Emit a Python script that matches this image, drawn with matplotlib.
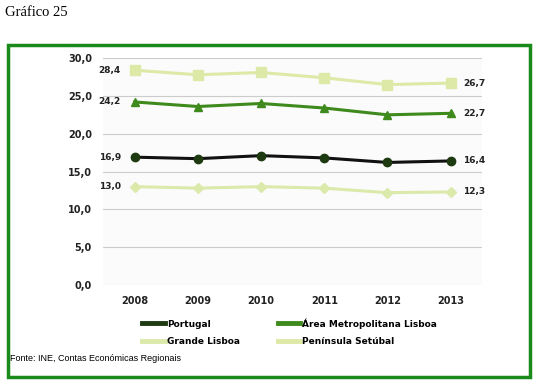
import matplotlib.pyplot as plt
from matplotlib.lines import Line2D
from matplotlib.patches import Rectangle

# data
years = ['2008', '2009', '2010', '2011', '2012', '2013']
portugal = [16.9, 16.7, 17.1, 16.8, 16.2, 16.4]
aml = [24.2, 23.6, 24.0, 23.4, 22.5, 22.7]
grande_lisboa = [13.0, 12.8, 13.0, 12.8, 12.2, 12.3]
setubal = [28.4, 27.8, 28.1, 27.4, 26.5, 26.7]
yticks = [0, 5, 10, 15, 20, 25, 30]

series = [
    ('Portugal', portugal, '#111111', '#1e3a10', 'o', 6),
    ('Área Metropolitana Lisboa', aml, '#3f8a1c', '#3f8a1c', '^', 6),
    ('Grande Lisboa', grande_lisboa, '#dbe9ab', '#dbe9ab', 'D', 5.5),
    ('Península Setúbal', setubal, '#dde9a6', '#dde9a6', 's', 6.5),
]

fig = plt.figure(figsize=(5.37, 3.85), dpi=100)
ax = fig.add_axes([0.192, 0.26, 0.706, 0.589])
ax.set_facecolor('#fbfbfb')

x = list(range(len(years)))
for name, vals, lc, mc, mk, ms in series:
    ax.plot(x, vals, color=lc, lw=2.2, marker=mk, ms=ms,
            markerfacecolor=mc, markeredgecolor=mc, zorder=3)
    ax.text(x[0] - 0.22, vals[0], f'{vals[0]:.1f}'.replace('.', ','),
            ha='right', va='center', fontsize=6.5, fontweight='bold', color='#222222')
    ax.text(x[-1] + 0.2, vals[-1], f'{vals[-1]:.1f}'.replace('.', ','),
            ha='left', va='center', fontsize=6.5, fontweight='bold', color='#222222')

ax.set_xlim(-0.5, 5.5)
ax.set_ylim(0, 30)
ax.set_xticks(x)
ax.set_xticklabels(years, fontsize=7, fontweight='bold', color='#222222')
ax.set_yticks(yticks)
ax.set_yticklabels([f'{v:.1f}'.replace('.', ',') for v in yticks],
                   fontsize=7, fontweight='bold', color='#222222')
ax.tick_params(length=0, pad=8)
ax.grid(axis='y', color='#cccccc', lw=0.8)
ax.set_axisbelow(True)
for s in ax.spines.values():
    s.set_visible(False)

# legend fills column by column, so order entries to read row by row
order = [0, 2, 1, 3]
handles = [Line2D([0], [0], color=('#1e3a10' if i == 0 else series[i][2]), lw=3.5)
           for i in order]
fig.legend(handles, [series[i][0] for i in order], ncol=2, loc='upper left',
           bbox_to_anchor=(0.25, 0.195), frameon=False,
           prop={'weight': 'bold', 'size': 6.5}, handlelength=2.5,
           handletextpad=0.2, columnspacing=4.2, labelspacing=0.9)

fig.text(0.018, 0.07, 'Fonte: INE, Contas Económicas Regionais',
         fontsize=6.5, family='Liberation Sans', va='center')
fig.text(0.01, 0.968, 'Gráfico 25', fontsize=10.5, family='Liberation Serif', va='center')

fig.patches.append(Rectangle((0.015, 0.02), 0.972, 0.862, transform=fig.transFigure,
                             fill=False, edgecolor='#1a8a1a', lw=2.5))

fig.savefig('out.png', dpi=100)
